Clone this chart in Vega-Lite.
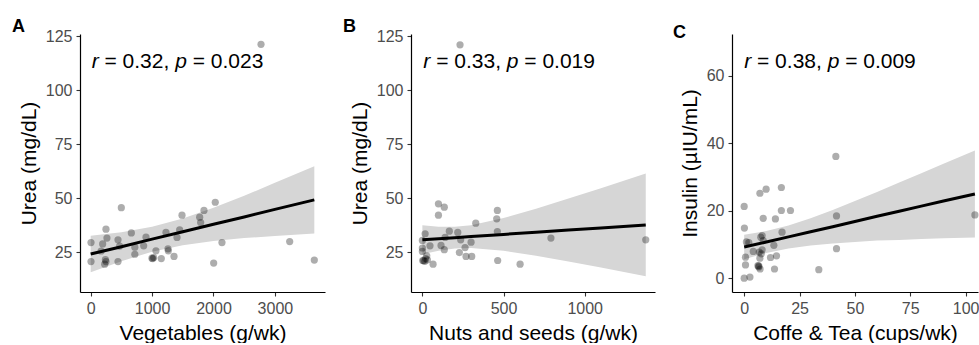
{
  "$schema": "https://vega.github.io/schema/vega-lite/v6.json",
  "padding": {"left": 12, "top": 18, "right": 0, "bottom": 0},
  "background": "white",
  "spacing": 18,
  "bounds": "full",
  "config": {
    "font": "Liberation Sans",
    "view": {"stroke": null},
    "axis": {"grid": false, "domainColor": "black", "domainWidth": 1.2, "tickColor": "#333333", "tickWidth": 1.1, "tickSize": 4, "labelFont": "Liberation Sans", "labelFontSize": 16, "labelColor": "#4D4D4D", "labelPadding": 4, "titleFont": "Liberation Sans", "titleFontSize": 21, "titleFontWeight": "normal", "titleColor": "black", "titlePadding": 6, "labelOverlap": false, "labelFlush": false, "format": "d"},
    "title": {"font": "Liberation Sans", "fontSize": 18, "fontWeight": "bold", "color": "black", "anchor": "start", "frame": "group", "baseline": "alphabetic", "offset": -8}
  },
  "datasets": {
    "pts": [
      {"panel": "A", "x": 5, "y": 29.4}, {"panel": "A", "x": 5, "y": 20.6}, {"panel": "A", "x": 249, "y": 35.6}, {"panel": "A", "x": 265, "y": 31.5}, {"panel": "A", "x": 195, "y": 28.8}, {"panel": "A", "x": 249, "y": 20.6}, {"panel": "A", "x": 228, "y": 19.4}, {"panel": "A", "x": 499, "y": 45.6}, {"panel": "A", "x": 445, "y": 30.7}, {"panel": "A", "x": 472, "y": 27.8}, {"panel": "A", "x": 445, "y": 20.6}, {"panel": "A", "x": 662, "y": 33.9}, {"panel": "A", "x": 719, "y": 27.3}, {"panel": "A", "x": 719, "y": 24.0}, {"panel": "A", "x": 863, "y": 27.9}, {"panel": "A", "x": 901, "y": 31.9}, {"panel": "A", "x": 998, "y": 22.2}, {"panel": "A", "x": 1026, "y": 22.5}, {"panel": "A", "x": 1063, "y": 25.6}, {"panel": "A", "x": 1150, "y": 22.0}, {"panel": "A", "x": 1226, "y": 34.1}, {"panel": "A", "x": 1259, "y": 26.5}, {"panel": "A", "x": 1264, "y": 25.6}, {"panel": "A", "x": 1357, "y": 23.0}, {"panel": "A", "x": 1406, "y": 31.8}, {"panel": "A", "x": 1449, "y": 35.3}, {"panel": "A", "x": 1487, "y": 42.1}, {"panel": "A", "x": 1775, "y": 41.2}, {"panel": "A", "x": 1791, "y": 38.7}, {"panel": "A", "x": 1845, "y": 44.3}, {"panel": "A", "x": 2029, "y": 48.1}, {"panel": "A", "x": 2003, "y": 19.9}, {"panel": "A", "x": 2138, "y": 29.4}, {"panel": "A", "x": 3241, "y": 29.9}, {"panel": "A", "x": 3642, "y": 21.3}, {"panel": "A", "x": 2774, "y": 121.3}, {"panel": "A", "x": 170, "y": 25.5}, {"panel": "A", "x": 240, "y": 21.5}, {"panel": "A", "x": 1010, "y": 22.0},
      {"panel": "B", "x": 232, "y": 121.1}, {"panel": "B", "x": 99, "y": 47.4}, {"panel": "B", "x": 135, "y": 45.8}, {"panel": "B", "x": 99, "y": 42.1}, {"panel": "B", "x": 462, "y": 44.3}, {"panel": "B", "x": 458, "y": 40.4}, {"panel": "B", "x": 329, "y": 38.4}, {"panel": "B", "x": 166, "y": 34.7}, {"panel": "B", "x": 218, "y": 34.1}, {"panel": "B", "x": 462, "y": 34.5}, {"panel": "B", "x": 17, "y": 33.5}, {"panel": "B", "x": 140, "y": 31.8}, {"panel": "B", "x": 236, "y": 30.7}, {"panel": "B", "x": 300, "y": 29.6}, {"panel": "B", "x": 115, "y": 28.1}, {"panel": "B", "x": 47, "y": 27.9}, {"panel": "B", "x": 135, "y": 26.1}, {"panel": "B", "x": 263, "y": 27.1}, {"panel": "B", "x": 228, "y": 24.8}, {"panel": "B", "x": 269, "y": 23.0}, {"panel": "B", "x": 304, "y": 23.0}, {"panel": "B", "x": 464, "y": 21.1}, {"panel": "B", "x": 602, "y": 19.4}, {"panel": "B", "x": 66, "y": 19.4}, {"panel": "B", "x": 792, "y": 31.5}, {"panel": "B", "x": 1376, "y": 30.7}, {"panel": "B", "x": 0, "y": 30.4}, {"panel": "B", "x": 0, "y": 26.9}, {"panel": "B", "x": 0, "y": 25.3}, {"panel": "B", "x": 2, "y": 21.1}, {"panel": "B", "x": 15, "y": 20.7}, {"panel": "B", "x": 31, "y": 21.4}, {"panel": "B", "x": 27, "y": 23.3}, {"panel": "B", "x": 8, "y": 21.0}, {"panel": "B", "x": 20, "y": 22.0},
      {"panel": "C", "x": 16.8, "y": 26.9}, {"panel": "C", "x": 9.9, "y": 26.4}, {"panel": "C", "x": 7.1, "y": 25.2}, {"panel": "C", "x": 0, "y": 21.3}, {"panel": "C", "x": 16.8, "y": 20.1}, {"panel": "C", "x": 20.9, "y": 20.1}, {"panel": "C", "x": 41.7, "y": 18.5}, {"panel": "C", "x": 8.6, "y": 17.8}, {"panel": "C", "x": 14.1, "y": 17.6}, {"panel": "C", "x": 0.1, "y": 14.9}, {"panel": "C", "x": 17.1, "y": 13.7}, {"panel": "C", "x": 8.1, "y": 12.7}, {"panel": "C", "x": 8.6, "y": 11.2}, {"panel": "C", "x": 2.1, "y": 10.6}, {"panel": "C", "x": 4.1, "y": 8.0}, {"panel": "C", "x": 13.4, "y": 9.8}, {"panel": "C", "x": 41.7, "y": 8.8}, {"panel": "C", "x": 0.6, "y": 6.3}, {"panel": "C", "x": 8.1, "y": 8.5}, {"panel": "C", "x": 7.7, "y": 7.3}, {"panel": "C", "x": 7.1, "y": 6.0}, {"panel": "C", "x": 11.9, "y": 6.2}, {"panel": "C", "x": 14.6, "y": 6.7}, {"panel": "C", "x": 0.6, "y": 4.0}, {"panel": "C", "x": 6.2, "y": 3.8}, {"panel": "C", "x": 6.6, "y": 3.4}, {"panel": "C", "x": 7.2, "y": 2.8}, {"panel": "C", "x": 13.7, "y": 2.8}, {"panel": "C", "x": 33.7, "y": 2.6}, {"panel": "C", "x": 0, "y": 0.1}, {"panel": "C", "x": 2.6, "y": 0.4}, {"panel": "C", "x": 41.4, "y": 36.1}, {"panel": "C", "x": 104.2, "y": 18.8}, {"panel": "C", "x": 1, "y": 10.8}, {"panel": "C", "x": 7.5, "y": 12.2}, {"panel": "C", "x": 6.8, "y": 7.8}, {"panel": "C", "x": 6.6, "y": 3.7}
    ],
    "band": [
      {"panel": "A", "x": 0, "fit": 24.1, "lo": 15.6, "hi": 32.6}, {"panel": "A", "x": 500, "fit": 27.5, "lo": 20.8, "hi": 34.2}, {"panel": "A", "x": 1000, "fit": 31.0, "lo": 25.2, "hi": 36.8}, {"panel": "A", "x": 1500, "fit": 34.4, "lo": 28.2, "hi": 40.6}, {"panel": "A", "x": 2000, "fit": 37.9, "lo": 30.2, "hi": 45.6}, {"panel": "A", "x": 2500, "fit": 41.3, "lo": 31.5, "hi": 51.1}, {"panel": "A", "x": 3000, "fit": 44.8, "lo": 32.5, "hi": 57.1}, {"panel": "A", "x": 3642, "fit": 49.2, "lo": 33.6, "hi": 64.8},
      {"panel": "B", "x": 0, "fit": 30.7, "lo": 24.0, "hi": 37.4}, {"panel": "B", "x": 100, "fit": 31.2, "lo": 25.6, "hi": 36.8}, {"panel": "B", "x": 200, "fit": 31.7, "lo": 26.65, "hi": 36.75}, {"panel": "B", "x": 300, "fit": 32.2, "lo": 26.9, "hi": 37.5}, {"panel": "B", "x": 500, "fit": 33.2, "lo": 25.65, "hi": 40.75}, {"panel": "B", "x": 700, "fit": 34.2, "lo": 23.3, "hi": 45.1}, {"panel": "B", "x": 900, "fit": 35.2, "lo": 20.6, "hi": 49.8}, {"panel": "B", "x": 1100, "fit": 36.2, "lo": 17.8, "hi": 54.6}, {"panel": "B", "x": 1376, "fit": 37.6, "lo": 13.8, "hi": 61.4},
      {"panel": "C", "x": 0, "fit": 9.3, "lo": 5.7, "hi": 12.9}, {"panel": "C", "x": 10, "fit": 10.8, "lo": 7.56, "hi": 14.04}, {"panel": "C", "x": 20, "fit": 12.3, "lo": 8.9, "hi": 15.7}, {"panel": "C", "x": 30, "fit": 13.8, "lo": 9.76, "hi": 17.84}, {"panel": "C", "x": 40, "fit": 15.3, "lo": 10.33, "hi": 20.27}, {"panel": "C", "x": 50, "fit": 16.85, "lo": 10.8, "hi": 22.9}, {"panel": "C", "x": 60, "fit": 18.4, "lo": 11.2, "hi": 25.6}, {"panel": "C", "x": 70, "fit": 19.9, "lo": 11.4, "hi": 28.4}, {"panel": "C", "x": 80, "fit": 21.4, "lo": 11.7, "hi": 31.1}, {"panel": "C", "x": 90, "fit": 22.9, "lo": 11.9, "hi": 33.9}, {"panel": "C", "x": 104.2, "fit": 25.0, "lo": 12.15, "hi": 37.85}
    ],
    "ann": [
      {"panel": "A", "x": 16, "y": 110.5, "text": "r", "it": true}, {"panel": "A", "x": 225, "y": 110.5, "text": "= 0.32,", "it": false}, {"panel": "A", "x": 1376, "y": 110.5, "text": "p", "it": true}, {"panel": "A", "x": 1661, "y": 110.5, "text": "= 0.023", "it": false},
      {"panel": "B", "x": 6, "y": 110.5, "text": "r", "it": true}, {"panel": "B", "x": 85, "y": 110.5, "text": "= 0.33,", "it": false}, {"panel": "B", "x": 520, "y": 110.5, "text": "p", "it": true}, {"panel": "B", "x": 628, "y": 110.5, "text": "= 0.019", "it": false},
      {"panel": "C", "x": 0, "y": 62.2, "text": "r", "it": true}, {"panel": "C", "x": 5.8, "y": 62.2, "text": "= 0.38,", "it": false}, {"panel": "C", "x": 37.7, "y": 62.2, "text": "p", "it": true}, {"panel": "C", "x": 45.6, "y": 62.2, "text": "= 0.009", "it": false}
    ]
  },
  "hconcat": [
    {
      "title": {"text": "A", "dx": -68},
      "width": 245, "height": 258,
      "layer": [
        {"data": {"name": "band"}, "transform": [{"filter": "datum.panel === 'A'"}], "mark": {"type": "area", "color": "#D6D6D6", "opacity": 1},
         "encoding": {"x": {"field": "x", "type": "quantitative", "scale": {"domain": [-174, 3816], "nice": false, "zero": false}, "axis": {"values": [0, 1000, 2000, 3000], "title": "Vegetables (g/wk)"}},
                      "y": {"field": "lo", "type": "quantitative", "scale": {"domain": [6.5, 126.1], "nice": false, "zero": false}, "axis": {"values": [25, 50, 75, 100, 125], "title": "Urea (mg/dL)"}},
                      "y2": {"field": "hi"}}},
        {"data": {"name": "pts"}, "transform": [{"filter": "datum.panel === 'A'"}], "mark": {"type": "circle", "size": 52, "color": "black", "opacity": 0.32},
         "encoding": {"x": {"field": "x", "type": "quantitative"}, "y": {"field": "y", "type": "quantitative"}}},
        {"data": {"name": "band"}, "transform": [{"filter": "datum.panel === 'A'"}], "mark": {"type": "line", "color": "black", "strokeWidth": 3},
         "encoding": {"x": {"field": "x", "type": "quantitative"}, "y": {"field": "fit", "type": "quantitative"}}},
        {"data": {"name": "ann"}, "transform": [{"filter": "datum.panel === 'A' && datum.it"}], "mark": {"type": "text", "align": "left", "baseline": "alphabetic", "fontSize": 21, "fontStyle": "italic", "color": "black"},
         "encoding": {"x": {"field": "x", "type": "quantitative"}, "y": {"field": "y", "type": "quantitative"}, "text": {"field": "text"}}},
        {"data": {"name": "ann"}, "transform": [{"filter": "datum.panel === 'A' && !datum.it"}], "mark": {"type": "text", "align": "left", "baseline": "alphabetic", "fontSize": 21, "color": "black"},
         "encoding": {"x": {"field": "x", "type": "quantitative"}, "y": {"field": "y", "type": "quantitative"}, "text": {"field": "text"}}}
      ]
    },
    {
      "title": {"text": "B", "dx": -68},
      "width": 244, "height": 258,
      "layer": [
        {"data": {"name": "band"}, "transform": [{"filter": "datum.panel === 'B'"}], "mark": {"type": "area", "color": "#D6D6D6", "opacity": 1},
         "encoding": {"x": {"field": "x", "type": "quantitative", "scale": {"domain": [-70, 1433], "nice": false, "zero": false}, "axis": {"values": [0, 500, 1000], "title": "Nuts and seeds (g/wk)"}},
                      "y": {"field": "lo", "type": "quantitative", "scale": {"domain": [6.5, 126.1], "nice": false, "zero": false}, "axis": {"values": [25, 50, 75, 100, 125], "title": "Urea (mg/dL)"}},
                      "y2": {"field": "hi"}}},
        {"data": {"name": "pts"}, "transform": [{"filter": "datum.panel === 'B'"}], "mark": {"type": "circle", "size": 52, "color": "black", "opacity": 0.32},
         "encoding": {"x": {"field": "x", "type": "quantitative"}, "y": {"field": "y", "type": "quantitative"}}},
        {"data": {"name": "band"}, "transform": [{"filter": "datum.panel === 'B'"}], "mark": {"type": "line", "color": "black", "strokeWidth": 3},
         "encoding": {"x": {"field": "x", "type": "quantitative"}, "y": {"field": "fit", "type": "quantitative"}}},
        {"data": {"name": "ann"}, "transform": [{"filter": "datum.panel === 'B' && datum.it"}], "mark": {"type": "text", "align": "left", "baseline": "alphabetic", "fontSize": 21, "fontStyle": "italic", "color": "black"},
         "encoding": {"x": {"field": "x", "type": "quantitative"}, "y": {"field": "y", "type": "quantitative"}, "text": {"field": "text"}}},
        {"data": {"name": "ann"}, "transform": [{"filter": "datum.panel === 'B' && !datum.it"}], "mark": {"type": "text", "align": "left", "baseline": "alphabetic", "fontSize": 21, "color": "black"},
         "encoding": {"x": {"field": "x", "type": "quantitative"}, "y": {"field": "y", "type": "quantitative"}, "text": {"field": "text"}}}
      ]
    },
    {
      "title": {"text": "C", "dx": -59},
      "width": 246, "height": 258,
      "layer": [
        {"data": {"name": "band"}, "transform": [{"filter": "datum.panel === 'C'"}], "mark": {"type": "area", "color": "#D6D6D6", "opacity": 1},
         "encoding": {"x": {"field": "x", "type": "quantitative", "scale": {"domain": [-5.5, 105.6], "nice": false, "zero": false}, "axis": {"values": [0, 25, 50, 75, 100], "title": "Coffe & Tea (cups/wk)"}},
                      "y": {"field": "lo", "type": "quantitative", "scale": {"domain": [-4, 72.3], "nice": false, "zero": false}, "axis": {"values": [0, 20, 40, 60], "title": "Insulin (µIU/mL)"}},
                      "y2": {"field": "hi"}}},
        {"data": {"name": "pts"}, "transform": [{"filter": "datum.panel === 'C'"}], "mark": {"type": "circle", "size": 52, "color": "black", "opacity": 0.32},
         "encoding": {"x": {"field": "x", "type": "quantitative"}, "y": {"field": "y", "type": "quantitative"}}},
        {"data": {"name": "band"}, "transform": [{"filter": "datum.panel === 'C'"}], "mark": {"type": "line", "color": "black", "strokeWidth": 3},
         "encoding": {"x": {"field": "x", "type": "quantitative"}, "y": {"field": "fit", "type": "quantitative"}}},
        {"data": {"name": "ann"}, "transform": [{"filter": "datum.panel === 'C' && datum.it"}], "mark": {"type": "text", "align": "left", "baseline": "alphabetic", "fontSize": 21, "fontStyle": "italic", "color": "black"},
         "encoding": {"x": {"field": "x", "type": "quantitative"}, "y": {"field": "y", "type": "quantitative"}, "text": {"field": "text"}}},
        {"data": {"name": "ann"}, "transform": [{"filter": "datum.panel === 'C' && !datum.it"}], "mark": {"type": "text", "align": "left", "baseline": "alphabetic", "fontSize": 21, "color": "black"},
         "encoding": {"x": {"field": "x", "type": "quantitative"}, "y": {"field": "y", "type": "quantitative"}, "text": {"field": "text"}}}
      ]
    }
  ]
}
